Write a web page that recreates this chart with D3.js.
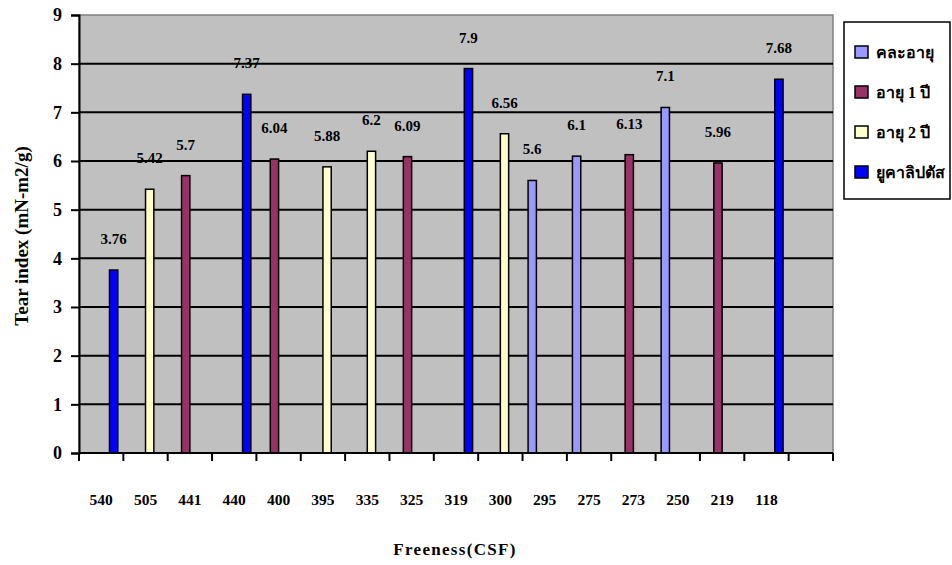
<!DOCTYPE html>
<html>
<head>
<meta charset="utf-8">
<script src="https://cdn.jsdelivr.net/npm/d3@7"></script>
<style>
  body { margin: 0; background: #fff; }
  svg text { font-family: "Liberation Serif", "Times New Roman", "DejaVu Serif", serif; font-weight: bold; fill: #000; }
</style>
</head>
<body>
<svg id="chart" width="952" height="565"></svg>
<script>
// freeness (CSF) categories, last slot is an empty category
const freeness = ['540', '505', '441', '440', '400', '395', '335', '325', '319', '300', '295', '275', '273', '250', '219', '118', ''];
const seriesNames = ['คละอายุ', 'อายุ 1 ปี', 'อายุ 2 ปี', 'ยูคาลิปตัส'];
const seriesColors = ['#9999FF', '#993366', '#FFFFCC', '#0000FF'];

// tear index per series (null = no bar)
const mixedAge = [null, null, null, null, null, null, null, null, null, null, 5.6, 6.1, null, 7.1, null, null, null];
const age1 = [null, null, 5.7, null, 6.04, null, null, 6.09, null, null, null, null, 6.13, null, 5.96, null, null];
const age2 = [null, 5.42, null, null, null, 5.88, 6.2, null, null, 6.56, null, null, null, null, null, null, null];
const eucalyptus = [3.76, null, null, 7.37, null, null, null, null, 7.9, null, null, null, null, null, null, 7.68, null];
const yTicks = [0, 1, 2, 3, 4, 5, 6, 7, 8, 9];

const seriesValues = [mixedAge, age1, age2, eucalyptus];
const serif = '"Liberation Serif", "Times New Roman", serif';

const margin = { top: 15, right: 119, bottom: 112, left: 79 };
const width = 952 - margin.left - margin.right;
const height = 565 - margin.top - margin.bottom;

const svg = d3.select('#chart');
const g = svg.append('g').attr('transform', `translate(${margin.left},${margin.top})`);

// scales
const xScale = d3.scaleBand()
    .domain(d3.range(freeness.length))
    .range([0, width])
    .padding(0);

const xInner = d3.scaleBand()
    .domain(d3.range(seriesNames.length))
    .range([0, xScale.bandwidth()])
    .paddingInner(0)
    .paddingOuter(0.67);

const yScale = d3.scaleLinear()
    .domain([0, 9])
    .range([height, 0]);

// plot background
g.append('rect')
    .attr('width', width)
    .attr('height', height)
    .attr('fill', '#C0C0C0')
    .attr('stroke', '#808080')
    .attr('stroke-width', 1.5);

// gridlines
g.selectAll('.grid')
    .data(yTicks.filter(d => d > 0 && d < 9))
    .enter()
    .append('line')
    .attr('x1', 0)
    .attr('x2', width)
    .attr('y1', d => yScale(d))
    .attr('y2', d => yScale(d))
    .attr('stroke', '#000')
    .attr('stroke-width', 2);

// bars
const barData = [];
seriesValues.forEach((vals, s) => {
    vals.forEach((v, i) => {
        if (v != null) barData.push({ cat: i, series: s, value: v });
    });
});

g.selectAll('.bar')
    .data(barData)
    .enter()
    .append('rect')
    .attr('class', 'bar')
    .attr('x', d => xScale(d.cat) + xInner(d.series))
    .attr('y', d => yScale(d.value))
    .attr('width', xInner.bandwidth())
    .attr('height', d => height - yScale(d.value))
    .attr('fill', d => seriesColors[d.series])
    .attr('stroke', '#000')
    .attr('stroke-width', 1.5);

// data labels
g.selectAll('.label')
    .data(barData)
    .enter()
    .append('text')
    .attr('x', d => xScale(d.cat) + xInner(d.series) + xInner.bandwidth() / 2)
    .attr('y', d => yScale(d.value) - 26)
    .attr('text-anchor', 'middle')
    .style('font-family', serif)
    .style('font-size', '15px')
    .text(d => d.value);

// y-axis
const yAxis = g.append('g')
    .call(d3.axisLeft(yScale).tickValues(yTicks).tickSize(8).tickPadding(9));
yAxis.select('.domain').attr('stroke', '#000').attr('stroke-width', 2);
yAxis.selectAll('.tick line').attr('stroke', '#000').attr('stroke-width', 2);
yAxis.selectAll('.tick text')
    .style('font-family', serif)
    .style('font-weight', 'bold')
    .style('font-size', '18px');

// x-axis: ticks at category boundaries
const xAxis = g.append('g')
    .attr('transform', `translate(0,${height})`);
xAxis.append('line')
    .attr('x1', 0)
    .attr('x2', width)
    .attr('stroke', '#000')
    .attr('stroke-width', 2);
xAxis.selectAll('.xtick')
    .data(d3.range(freeness.length + 1))
    .enter()
    .append('line')
    .attr('x1', d => d < freeness.length ? xScale(d) : width)
    .attr('x2', d => d < freeness.length ? xScale(d) : width)
    .attr('y1', 0)
    .attr('y2', 8)
    .attr('stroke', '#000')
    .attr('stroke-width', 2);
xAxis.selectAll('.xlabel')
    .data(freeness)
    .enter()
    .append('text')
    .attr('x', (d, i) => xScale(i) + xScale.bandwidth() / 2)
    .attr('y', 52)
    .attr('text-anchor', 'middle')
    .style('font-family', serif)
    .style('font-size', '15.5px')
    .text(d => d);

// axis titles
svg.append('text')
    .attr('transform', 'rotate(-90)')
    .attr('x', -236)
    .attr('y', 28)
    .attr('text-anchor', 'middle')
    .style('font-family', serif)
    .style('font-size', '19px')
    .style('white-space', 'pre')
    .text('Tear index (mN-m2/g)');

svg.append('text')
    .attr('x', 455)
    .attr('y', 555)
    .attr('text-anchor', 'middle')
    .style('font-family', serif)
    .style('font-size', '17px')
    .style('letter-spacing', '1.3px')
    .text('Freeness(CSF)');

// legend
const legend = svg.append('g').attr('transform', 'translate(844,22)');
legend.append('rect')
    .attr('width', 106)
    .attr('height', 177)
    .attr('fill', '#fff')
    .attr('stroke', '#000')
    .attr('stroke-width', 1.5);

const items = legend.selectAll('.item')
    .data(seriesNames)
    .enter()
    .append('g')
    .attr('transform', (d, i) => `translate(11,${30 + i * 40})`);
items.append('rect')
    .attr('y', -6)
    .attr('width', 13)
    .attr('height', 12)
    .attr('fill', (d, i) => seriesColors[i])
    .attr('stroke', '#000')
    .attr('stroke-width', 1.5);
items.append('text')
    .attr('x', 21)
    .attr('y', 6)
    .style('font-family', serif)
    .style('font-size', '16px')
    .text(d => d);
</script>
</body>
</html>
